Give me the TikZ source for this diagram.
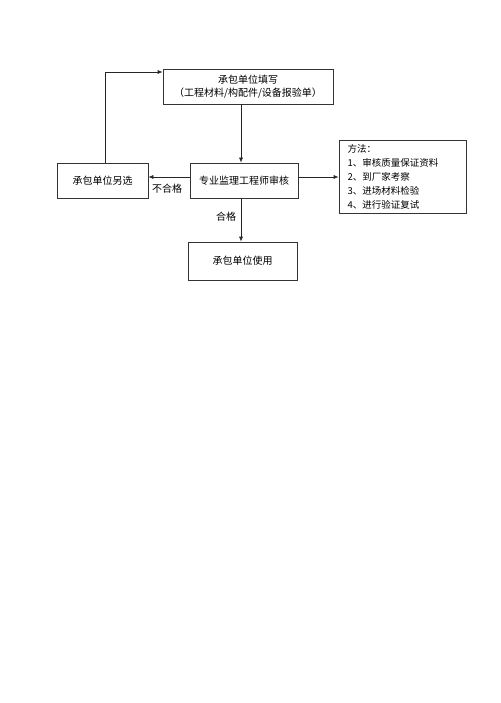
\documentclass[tikz,border=0pt]{standalone}
\usepackage{fontspec}
\newfontfamily\cjk{Noto Sans CJK SC}
\usetikzlibrary{arrows.meta}
\begin{document}
\begin{tikzpicture}[x=1pt,y=-1pt,
  box/.style={draw=black!80,line width=0.7pt,inner sep=0pt,font=\cjk\fontsize{10}{13}\selectfont,align=center},
  conn/.style={draw=black!85,line width=0.7pt,-{Latex[length=5pt,width=4pt]}},
  lbl/.style={font=\cjk\fontsize{10}{12}\selectfont}]
\useasboundingbox[fill=white] (0,0) rectangle (500,703);
\node[box,minimum width=170pt,minimum height=35pt] (fill) at (248,86.5) {承包单位填写\\（工程材料/构配件/设备报验单）};
\node[box,minimum width=108pt,minimum height=35pt] (review) at (244,180.5) {专业监理工程师审核};
\node[box,minimum width=91pt,minimum height=35pt] (alt) at (102.5,180.5) {承包单位另选};
\node[box,minimum width=109pt,minimum height=38pt] (use) at (242.5,261) {承包单位使用};
\node[box,minimum width=127pt,minimum height=73pt,align=left,font=\cjk\fontsize{9.5}{14}\selectfont] (method) at (402.5,176.5) {\hspace*{2pt}\parbox{112pt}{方法：\\1、审核质量保证资料\\2、到厂家考察\\3、进场材料检验\\4、进行验证复试}};
\coordinate (corner) at (105,72);
\draw[conn] (fill.south -| 241,0) -- (review.north -| 241,0);
\draw[conn] (review.south -| 241,0) -- (use.north -| 241,0);
\draw[conn] (review.west |- 0,177) -- (alt.east |- 0,177);
\draw[conn] (review.east |- 0,177) -- (method.west |- 0,177);
\draw[conn] (alt.north -| corner) -- (corner) -- (fill.west |- corner);
\node[lbl] (ng) at (167,188.5) {不合格};
\node[lbl] (ok) at (226,216.5) {合格};
\end{tikzpicture}
\end{document}
